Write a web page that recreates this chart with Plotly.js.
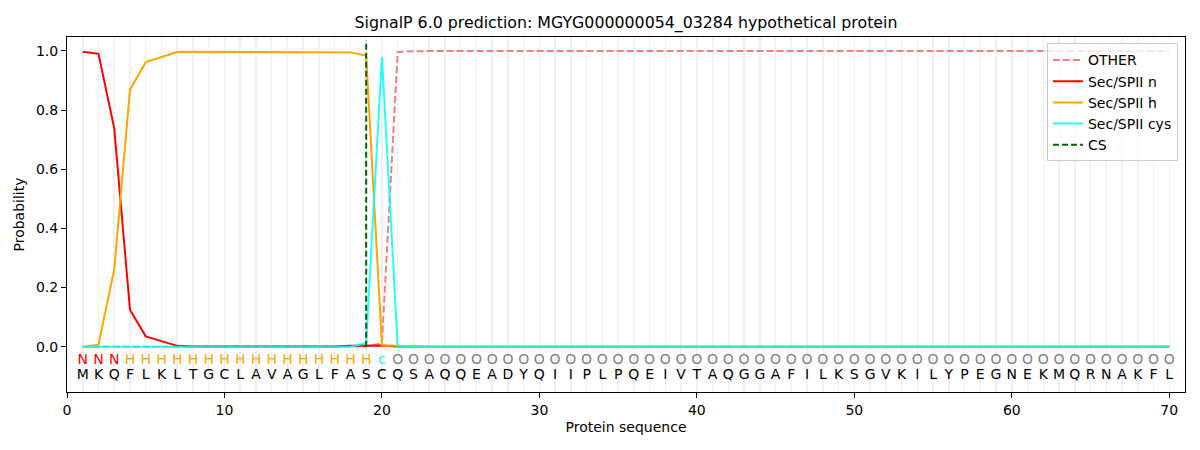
<!DOCTYPE html>
<html>
<head>
<meta charset="utf-8">
<script src="https://cdn.plot.ly/plotly-3.0.1.min.js"></script>
<style>html,body{margin:0;padding:0;background:#fff;}#chart{width:1200px;height:450px;}</style>
</head>
<body>
<div id="chart"></div>
<script>
const sequence = "MKQFLKLTGCLAVAGLFASCQSAQQEADYQIIPLPQEIVTAQGGAFILKSGVKILYPEGNEKMQRNAKFL".split("");
const regionLabels = ["N","N","N","H","H","H","H","H","H","H","H","H","H","H","H","H","H","H","H","c",
  "O","O","O","O","O","O","O","O","O","O","O","O","O","O","O","O","O","O","O","O",
  "O","O","O","O","O","O","O","O","O","O","O","O","O","O","O","O","O","O","O","O",
  "O","O","O","O","O","O","O","O","O","O"];
const positions = [1,2,3,4,5,6,7,8,9,10,11,12,13,14,15,16,17,18,19,20,21,22,23,24,25,26,27,28,29,30,
  31,32,33,34,35,36,37,38,39,40,41,42,43,44,45,46,47,48,49,50,51,52,53,54,55,56,57,58,59,60,
  61,62,63,64,65,66,67,68,69,70];
const probOther = [0,0,0,0,0,0,0,0,0,0,0,0,0,0,0,0,0,0,0.001,0.012,
  0.996,0.999,1,1,1,1,1,1,1,1,1,1,1,1,1,1,1,1,1,1,
  1,1,1,1,1,1,1,1,1,1,1,1,1,1,1,1,1,1,1,1,
  1,1,1,1,1,1,1,1,1,1];
const probN = [0.997,0.990,0.738,0.125,0.035,0.018,0.003,0.001,0.001,0,0,0,0,0,0,0,0.001,0.003,0.004,0.004,
  0.001,0,0,0,0,0,0,0,0,0,0,0,0,0,0,0,0,0,0,0,
  0,0,0,0,0,0,0,0,0,0,0,0,0,0,0,0,0,0,0,0,
  0,0,0,0,0,0,0,0,0,0];
const probH = [0,0.007,0.262,0.869,0.962,0.980,0.996,0.997,0.997,0.997,0.997,0.997,0.997,0.997,0.996,0.996,0.996,0.995,0.984,0.005,
  0.003,0.001,0,0,0,0,0,0,0,0,0,0,0,0,0,0,0,0,0,0,
  0,0,0,0,0,0,0,0,0,0,0,0,0,0,0,0,0,0,0,0,
  0,0,0,0,0,0,0,0,0,0];
const probCys = [0,0,0,0,0,0,0,0,0,0,0,0,0,0,0,0,0,0,0.012,0.980,
  0.003,0,0,0,0,0,0,0,0,0,0,0,0,0,0,0,0,0,0,0,
  0,0,0,0,0,0,0,0,0,0,0,0,0,0,0,0,0,0,0,0,
  0,0,0,0,0,0,0,0,0,0];
const csPosition = 19;
const csLineY = [0, 1.035];
const xTicks = [0,10,20,30,40,50,60,70];
const yTicks = [0,0.2,0.4,0.6,0.8,1.0];

const labelColorMap = {N:"#ff0000", H:"#ffa500", c:"#00ffff", O:"#808080"};
const FONT = "DejaVu Sans, sans-serif";

const traces = [
  {x: positions, y: probOther, name: "OTHER", mode: "lines",
   line: {color: "rgba(240,128,128,1)", width: 2, dash: "7px,3px"}},
  {x: positions, y: probN, name: "Sec/SPII n", mode: "lines",
   line: {color: "#ff0000", width: 2}},
  {x: positions, y: probH, name: "Sec/SPII h", mode: "lines",
   line: {color: "#ffa500", width: 2}},
  {x: positions, y: probCys, name: "Sec/SPII cys", mode: "lines", opacity: 0.85,
   line: {color: "#00ffff", width: 2}},
  {x: [csPosition, csPosition], y: csLineY, name: "CS", mode: "lines",
   line: {color: "#006400", width: 2, dash: "6px,3px"}},
  {x: positions, y: positions.map(() => -0.047), text: regionLabels, mode: "text",
   textfont: {family: FONT, size: 14, color: regionLabels.map(l => labelColorMap[l])},
   showlegend: false, hoverinfo: "skip", cliponaxis: false},
  {x: positions, y: positions.map(() => -0.098), text: sequence, mode: "text",
   textfont: {family: FONT, size: 14, color: "#000000"},
   showlegend: false, hoverinfo: "skip", cliponaxis: false}
];

const layout = {
  width: 1200, height: 450,
  margin: {l: 67, r: 15, t: 37, b: 58},
  paper_bgcolor: "#ffffff", plot_bgcolor: "#ffffff",
  font: {family: FONT, size: 14, color: "#000"},
  title: {text: "SignalP 6.0 prediction: MGYG000000054_03284 hypothetical protein",
    font: {family: FONT, size: 15.8, color: "#000"},
    x: 0.5, xref: "paper", xanchor: "center", y: 0.949, yref: "container", yanchor: "middle"},
  xaxis: {range: [0, 71], tickvals: xTicks, ticktext: xTicks.map(String),
    ticks: "outside", ticklen: 5, tickcolor: "#000", tickwidth: 1,
    showline: true, linecolor: "#000", linewidth: 1, mirror: true,
    showgrid: false, zeroline: false,
    minor: {dtick: 1, tick0: 0, showgrid: true, gridcolor: "#f0f0f0", gridwidth: 1.5, ticks: ""},
    title: {text: "Protein sequence", font: {family: FONT, size: 14}, standoff: 5},
    tickfont: {family: FONT, size: 14}},
  yaxis: {range: [-0.153, 1.047], tickvals: yTicks, ticktext: yTicks.map(v => v.toFixed(1)),
    ticks: "outside", ticklen: 5, tickcolor: "#000", tickwidth: 1,
    showline: true, linecolor: "#000", linewidth: 1, mirror: true,
    showgrid: false, zeroline: false,
    title: {text: "Probability", font: {family: FONT, size: 14}, standoff: 8},
    tickfont: {family: FONT, size: 14}},
  legend: {x: 0.9937, y: 0.982, xanchor: "right", yanchor: "top",
    bgcolor: "rgba(255,255,255,0.8)", bordercolor: "#cccccc", borderwidth: 1,
    font: {family: FONT, size: 14}, tracegroupgap: 0},
  showlegend: true
};

Plotly.newPlot("chart", traces, layout, {displayModeBar: false, staticPlot: true});
</script>
</body>
</html>
